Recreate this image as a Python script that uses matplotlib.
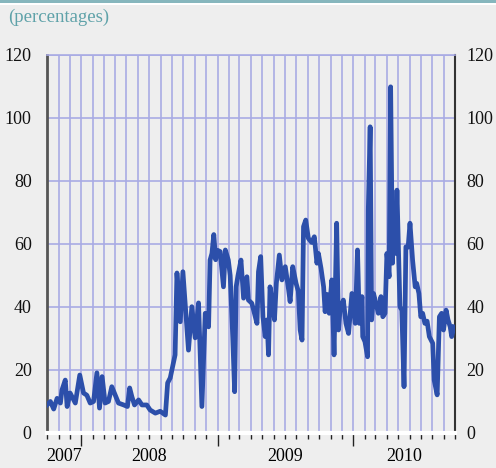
import matplotlib
matplotlib.use("Agg")
import matplotlib.pyplot as plt
import matplotlib.dates as mdates
import matplotlib.transforms as mtransforms
from matplotlib.patches import Rectangle
import pandas as pd

# series: percentages, irregularly sampled
dates = [
    "2007-10-01", "2007-10-10", "2007-10-19", "2007-10-28", "2007-11-06", "2007-11-10",
    "2007-11-19", "2007-11-24", "2007-12-02", "2007-12-16", "2007-12-28", "2008-01-07",
    "2008-01-16", "2008-01-25", "2008-02-03", "2008-02-12", "2008-02-19", "2008-02-26",
    "2008-03-05", "2008-03-14", "2008-03-23", "2008-04-10", "2008-04-24", "2008-05-04",
    "2008-05-10", "2008-05-16", "2008-05-23", "2008-06-03", "2008-06-12", "2008-06-25",
    "2008-07-04", "2008-07-18", "2008-07-31", "2008-08-14", "2008-08-20", "2008-08-27",
    "2008-09-09", "2008-09-14", "2008-09-23", "2008-09-30", "2008-10-15", "2008-10-24",
    "2008-11-02", "2008-11-11", "2008-11-20", "2008-11-29", "2008-12-08", "2008-12-12",
    "2008-12-17", "2008-12-22", "2008-12-27", "2009-01-01", "2009-01-08", "2009-01-17",
    "2009-01-22", "2009-01-30", "2009-02-04", "2009-02-11", "2009-02-16", "2009-02-20",
    "2009-02-25", "2009-03-05", "2009-03-12", "2009-03-21", "2009-03-25", "2009-04-03",
    "2009-04-08", "2009-04-17", "2009-04-21", "2009-04-27", "2009-05-03", "2009-05-09",
    "2009-05-14", "2009-05-18", "2009-05-22", "2009-05-28", "2009-06-03", "2009-06-08",
    "2009-06-16", "2009-06-23", "2009-07-02", "2009-07-11", "2009-07-15", "2009-07-22",
    "2009-07-31", "2009-08-06", "2009-08-11", "2009-08-16", "2009-08-20", "2009-08-26",
    "2009-09-02", "2009-09-11", "2009-09-18", "2009-09-25", "2009-09-29", "2009-10-06",
    "2009-10-13", "2009-10-17", "2009-10-22", "2009-10-28", "2009-11-04", "2009-11-10",
    "2009-11-17", "2009-11-22", "2009-11-26", "2009-12-05", "2009-12-12", "2009-12-19",
    "2009-12-28", "2010-01-01", "2010-01-06", "2010-01-12", "2010-01-17", "2010-01-24",
    "2010-01-26", "2010-02-01", "2010-02-08", "2010-02-10", "2010-02-15", "2010-02-19",
    "2010-02-24", "2010-03-03", "2010-03-09", "2010-03-16", "2010-03-21", "2010-03-27",
    "2010-04-01", "2010-04-07", "2010-04-11", "2010-04-16", "2010-04-20", "2010-04-24",
    "2010-04-28", "2010-05-02", "2010-05-06", "2010-05-11", "2010-05-17", "2010-05-22",
    "2010-05-28", "2010-06-02", "2010-06-09", "2010-06-16", "2010-06-20", "2010-06-26",
    "2010-07-01", "2010-07-06", "2010-07-12", "2010-07-18", "2010-07-24", "2010-08-02",
    "2010-08-06", "2010-08-14", "2010-08-20", "2010-08-26", "2010-08-31", "2010-09-07",
    "2010-09-12", "2010-09-18", "2010-09-22", "2010-09-28",
]
values = [
    8.9, 10.0, 7.6, 11.0, 9.5, 13.6,
    16.8, 8.4, 12.7, 9.5, 18.4, 12.7,
    12.0, 9.5, 10.0, 19.1, 7.9, 17.9,
    9.5, 10.0, 14.7, 9.5, 8.9, 8.4,
    14.3, 11.5, 8.9, 10.5, 8.9, 8.9,
    7.3, 6.3, 6.9, 5.7, 15.9, 17.5,
    24.8, 50.8, 35.3, 51.2, 26.3, 40.1,
    30.2, 41.3, 8.4, 38.0, 33.7, 54.9,
    57.0, 63.0, 55.0, 58.0, 57.6, 46.4,
    58.1, 54.9, 50.0, 30.0, 13.1, 46.4,
    50.0, 54.9, 42.8, 49.6, 42.2, 41.2,
    39.0, 34.8, 51.2, 56.0, 36.9, 30.6,
    35.9, 24.8, 46.4, 42.0, 35.9, 47.5,
    56.5, 48.6, 52.8, 45.4, 41.7, 52.8,
    47.5, 45.0, 32.7, 29.5, 65.5, 67.6,
    61.8, 60.5, 62.3, 53.9, 57.0, 52.3,
    46.4, 38.5, 44.0, 38.0, 48.6, 24.8,
    66.6, 32.7, 39.0, 42.2, 34.8, 31.6,
    44.3, 40.0, 34.8, 58.1, 34.8, 43.3,
    30.6, 29.0, 24.2, 70.8, 97.2, 35.9,
    44.3, 41.0, 38.0, 43.3, 36.9, 38.0,
    57.0, 49.6, 109.9, 53.9, 72.9, 57.0,
    77.1, 59.1, 40.1, 39.0, 14.7, 59.1,
    59.0, 66.6, 54.9, 46.4, 47.5, 44.3,
    36.9, 38.0, 34.8, 35.5, 30.6, 28.5,
    16.8, 12.1, 36.9, 38.0, 32.7, 39.0,
    36.0, 33.7, 30.6, 33.7,
]
y_ticks = [0, 20, 40, 60, 80, 100, 120]
year_labels = ["2007", "2008", "2009", "2010"]
x_range = ("2007-10-01", "2010-10-01")

BG = "#EEEEEE"
GRID = "#A9ABE4"
LINE = "#2C4FAA"
TEAL = "#5FA2A9"
FS = 13

plt.rcParams["font.family"] = ["Liberation Serif", "DejaVu Serif"]

fig = plt.figure(figsize=(4.96, 4.68), dpi=100, facecolor=BG)
ax = fig.add_axes([0.0948, 0.0748, 0.8226, 0.8077], facecolor=BG)

# top band
fig.patches.append(Rectangle((0, 0.993), 1, 0.007, transform=fig.transFigure,
                             facecolor="#86B6BD", edgecolor="none"))
fig.patches.append(Rectangle((0, 0.989), 1, 0.004, transform=fig.transFigure,
                             facecolor="white", edgecolor="none"))
fig.text(0.016, 0.962, "(percentages)", color=TEAL, fontsize=13.5, va="center", ha="left")

x = pd.to_datetime(dates)
x0, x1 = pd.Timestamp(x_range[0]), pd.Timestamp(x_range[1])

ax.plot(x, values, color=LINE, lw=3.4, solid_joinstyle="round", zorder=3)

ax.set_xlim(x0, x1)
ax.set_ylim(0, 120)
ax.set_yticks(y_ticks)

ax.xaxis.set_major_locator(mdates.YearLocator())
ax.xaxis.set_minor_locator(mdates.MonthLocator())
ax.xaxis.set_major_formatter(plt.NullFormatter())
ax.grid(True, which="both", axis="x", color=GRID, lw=1.2, zorder=1)
ax.grid(True, which="major", axis="y", color=GRID, lw=1.2, zorder=1)

ax.tick_params(axis="x", which="major", direction="out", length=9, width=1, color="#222222")
ax.tick_params(axis="x", which="minor", direction="out", length=4, width=1, color="#222222")
ax.tick_params(axis="y", which="both", length=0, labelsize=FS, labelcolor="#111111",
               labelright=True, right=False)
for t in ax.yaxis.get_major_ticks():
    t.label2.set_fontsize(FS)
ax.yaxis.set_tick_params(pad=11)
for t in ax.yaxis.get_major_ticks():
    t.label2.set_x(1.0)
    t.label2.set_transform(ax.get_yaxis_transform(which="tick2")
                           + mtransforms.ScaledTranslation(8 / 72, 0, fig.dpi_scale_trans))

ax.spines["left"].set_color("#555555")
ax.spines["left"].set_linewidth(2.0)
ax.spines["right"].set_color("#333333")
ax.spines["right"].set_linewidth(1.5)
ax.spines["top"].set_color(GRID)
ax.spines["top"].set_linewidth(1.2)
ax.spines["bottom"].set_color("white")
ax.spines["bottom"].set_linewidth(3)

# year labels centred on the visible part of each year
trans = mtransforms.blended_transform_factory(ax.transData, ax.transAxes)
for yr in year_labels:
    a = max(pd.Timestamp(f"{yr}-01-01"), x0)
    b = min(pd.Timestamp(f"{int(yr) + 1}-01-01"), x1)
    mid = a + (b - a) / 2
    ax.text(mid, -0.062, yr, transform=trans, ha="center", va="center", fontsize=FS)

fig.savefig("out.png", dpi=100, facecolor=BG)
